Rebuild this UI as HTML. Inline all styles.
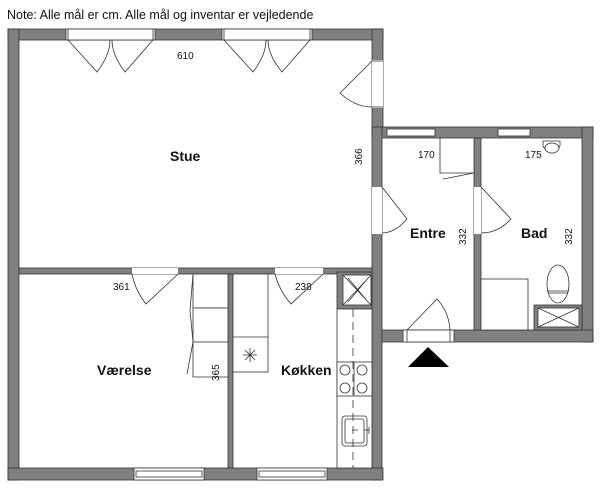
<!DOCTYPE html>
<html><head><style>html,body{margin:0;padding:0;background:#fff;width:600px;height:488px;overflow:hidden}
text{font-family:"Liberation Sans",sans-serif;fill:#111}</style></head><body>
<svg width="600" height="488" viewBox="0 0 600 488" xmlns="http://www.w3.org/2000/svg">
<text x="7" y="19" font-size="12.5">Note: Alle mål er cm. Alle mål og inventar er vejledende</text>
<g fill="#808080" stroke="#333" stroke-width="0.8">
<!-- Stue outer -->
<rect x="8" y="29" width="375" height="11"/>
<rect x="8" y="29" width="11" height="451"/>
<rect x="372" y="29" width="11" height="104"/>
<!-- entre block -->
<rect x="372" y="127" width="221" height="11"/>
<rect x="582" y="127" width="11" height="215"/>
<rect x="372" y="330" width="221" height="12"/>
<rect x="372" y="127" width="10" height="353"/>
<rect x="474" y="138" width="7" height="192"/>
<!-- bottom -->
<rect x="8" y="468" width="375" height="12"/>
<!-- partitions -->
<rect x="19" y="268" width="353" height="6"/>
<rect x="228" y="274" width="5" height="194"/>
<rect x="337" y="272" width="35" height="37" fill="#808080"/>
<rect x="534" y="305" width="48" height="25"/>
</g>
<g fill="#fff" stroke="#333" stroke-width="0.8">
<!-- top windows -->
<rect x="66" y="29" width="89" height="11"/><rect x="68" y="29" width="85" height="11"/>
<rect x="222" y="29" width="90" height="11"/><rect x="224" y="29" width="86" height="11"/>
<!-- right door opening -->
<rect x="372" y="60" width="11" height="48" stroke="none"/>
<line x1="372" y1="61" x2="383" y2="61"/><line x1="372" y1="107" x2="383" y2="107"/>
<!-- entre windows -->
<rect x="387" y="129" width="48" height="7"/><rect x="498" y="129" width="32" height="7"/>
<!-- door openings -->
<rect x="372" y="187" width="10" height="47" stroke="none"/>
<rect x="474" y="187" width="7" height="47" stroke="none"/>
<rect x="132" y="268" width="46" height="6" stroke="none"/>
<rect x="275" y="268" width="48" height="6" stroke="none"/>
<!-- front door -->
<rect x="403" y="330" width="51" height="12"/><rect x="407" y="330" width="43" height="12"/>
<!-- bottom windows -->
<rect x="134" y="468" width="70" height="12"/><rect x="136" y="471" width="66" height="6"/>
<rect x="257" y="468" width="70" height="12"/><rect x="259" y="471" width="66" height="6"/>
<!-- kitchen -->
<rect x="343" y="275" width="28" height="30"/>
<rect x="337" y="309" width="35" height="159"/>
<rect x="337" y="362" width="35" height="34"/>
<rect x="342" y="416" width="25" height="30" rx="3"/><rect x="345" y="419" width="19" height="24" rx="2"/>
<!-- wardrobe / cabinet -->
<rect x="193" y="274" width="35" height="34"/><rect x="193" y="308" width="35" height="34"/>
<rect x="233" y="274" width="35" height="98"/>
<line x1="233" y1="337" x2="268" y2="337"/>
<!-- bad -->
<rect x="481" y="279" width="47" height="51"/>
<rect x="538" y="308" width="41" height="19"/>
<ellipse cx="558" cy="284" rx="11" ry="19"/>
<path d="M543,141 h17 v5 a9,8 0 0 1 -17,0 z"/>
<ellipse cx="552" cy="148" rx="7" ry="5"/>
</g>
<g fill="none" stroke="#333" stroke-width="0.8">
<path d="M343,275 L371,305 M371,275 L343,305 M538,308 L579,327 M579,308 L538,327 M348,278 L368,302 M368,278 L348,302"/>
<path d="M547,291 h22 M548,293 h20"/>
<line x1="353" y1="309" x2="353" y2="468" stroke-dasharray="8,5"/>
<line x1="354" y1="362" x2="354" y2="396"/>
<circle cx="345" cy="370" r="5"/><circle cx="362" cy="370" r="5"/><circle cx="345" cy="388" r="5"/><circle cx="362" cy="388" r="5"/>
<!-- stue doors -->
<path d="M68,40 L97,72 Q110,55 110,40"/><path d="M153,40 L125,72 Q112,55 112,40"/>
<path d="M224,40 L253,72 Q266,55 266,40"/><path d="M310,40 L282,72 Q268,55 268,40"/>
<path d="M372,61 L340,93 Q355,107 372,107"/>
<!-- entre doors -->
<path d="M382,187 L407,219 Q395,233 382,233"/>
<path d="M481,187 L511,219 Q498,233 481,233"/>
<path d="M407,330 L437,299 Q449,312 450,330"/>
<!-- closet -->
<path d="M440,138 V173 H474 M443,179 L474,173"/>
<!-- lower doors -->
<path d="M178,274 L146,304 Q135,290 132,274"/>
<path d="M323,274 L291,304 Q279,290 275,274"/>
<!-- wardrobe doors -->
<path d="M193,275 L190,310 L193,342 L187,374 M193,342 V377 H228"/>
<!-- star -->
<path d="M243,355 h14 M250,348 v14 M245,350 l10,10 M255,350 l-10,10"/>
<path d="M364,430 h5 M369,427 v7 M352,430 h6"/>
</g>
<polygon points="428,347 449,367 408,367" fill="#000"/>
<g font-size="10">
<text x="177" y="59">610</text>
<text x="418" y="158">170</text>
<text x="525" y="158">175</text>
<text x="113" y="290">361</text>
<text x="295" y="290">238</text>
<text transform="translate(362,165) rotate(-90)">366</text>
<text transform="translate(466,245) rotate(-90)">332</text>
<text transform="translate(572,245) rotate(-90)">332</text>
<text transform="translate(219,381) rotate(-90)">365</text>
</g>
<g font-size="14" font-weight="bold">
<text x="170" y="161">Stue</text>
<text x="410" y="238">Entre</text>
<text x="521" y="238">Bad</text>
<text x="97" y="375">Værelse</text>
<text x="281" y="375">Køkken</text>
</g>
</svg>
</body></html>
